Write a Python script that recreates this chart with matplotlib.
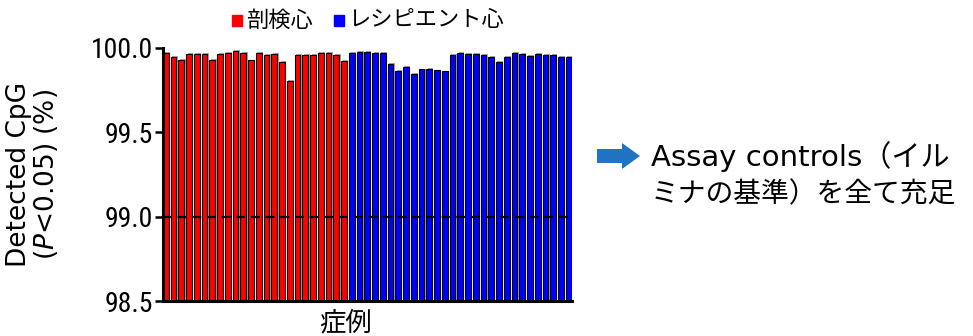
import matplotlib
matplotlib.use("Agg")
import matplotlib.pyplot as plt
import matplotlib.patheffects as pe
from matplotlib.patches import FancyArrow, Rectangle
import numpy as np

plt.rcParams['font.family'] = ['Noto Sans CJK JP', 'DejaVu Sans']
latin_cjk = ['DejaVu Sans', 'Noto Sans CJK JP']

# Detected CpG rate per case (%)
autopsy_values = [99.969, 99.942, 99.926, 99.962, 99.963, 99.962, 99.928, 99.960,
                  99.966, 99.978, 99.969, 99.924, 99.966, 99.957, 99.960, 99.913,
                  99.804, 99.957, 99.957, 99.954, 99.969, 99.966, 99.957, 99.922]
recipient_values = [99.966, 99.972, 99.972, 99.966, 99.966, 99.904, 99.863, 99.887,
                    99.845, 99.871, 99.875, 99.865, 99.859, 99.956, 99.968, 99.960,
                    99.960, 99.957, 99.942, 99.914, 99.944, 99.966, 99.960, 99.952,
                    99.960, 99.957, 99.954, 99.946, 99.942]
series_labels = ["剖検心", "レシピエント心"]
series_colors = ["#ff0000", "#0000ff"]
y_ticks = [98.5, 99.0, 99.5, 100.0]
threshold = 99.0
baseline = 98.5

fig = plt.figure(figsize=(9.73, 3.36), dpi=100)
ax = fig.add_axes([0.1675, 0.1027, 0.4205, 0.7559])

values = autopsy_values + recipient_values
colors = [series_colors[0]] * len(autopsy_values) + [series_colors[1]] * len(recipient_values)
x = np.arange(len(values))
heights = np.array(values) - baseline
bars = ax.bar(x, heights, bottom=baseline, width=0.74, color=colors,
              edgecolor='black', linewidth=0.8, zorder=2)
for b in bars:
    b.set_path_effects([pe.SimplePatchShadow(offset=(1.0, 0.6), shadow_rgbFace='0.65', alpha=1.0),
                        pe.Normal()])

ax.axhline(threshold, color='black', linewidth=1.6, dashes=(4.0, 2.6), zorder=3)

ax.set_xlim(-0.37, len(values) - 0.55)
ax.set_ylim(baseline, 100.0)
ax.set_yticks(y_ticks)
ax.set_yticklabels([f"{t:.1f}" for t in y_ticks],
                   fontfamily=['Roboto Condensed', 'Liberation Sans Narrow', 'Roboto', 'DejaVu Sans'],
                   fontsize=20)
ax.set_xticks([])
ax.tick_params(axis='y', length=6, width=1.8, direction='out', pad=1)
for s in ['top', 'right']:
    ax.spines[s].set_visible(False)
for s in ['left', 'bottom']:
    ax.spines[s].set_linewidth(2.2)

ax.set_ylabel("Detected CpG\n($\\mathit{P}$<0.05) (%)", fontfamily=latin_cjk,
              fontsize=19, linespacing=1.0, labelpad=22)
fig.text(346 / 973, 1 - 323 / 336, "症例", fontsize=19, va='center', ha='center')

# Legend across the top
fig.patches.append(Rectangle((232 / 973, 1 - 26 / 336), 10 / 973, 11 / 336,
                             transform=fig.transFigure, color=series_colors[0]))
fig.text(246 / 973, 1 - 20 / 336, series_labels[0], fontsize=16, va='center', ha='left')
fig.patches.append(Rectangle((334 / 973, 1 - 26 / 336), 10 / 973, 11 / 336,
                             transform=fig.transFigure, color=series_colors[1]))
fig.text(348 / 973, 1 - 20 / 336, series_labels[1], fontsize=16, va='center', ha='left')

# Note with arrow on the right
fig.patches.append(FancyArrow(597 / 973, 1 - 156 / 336, 25 / 973, 0,
                              width=14 / 336, head_width=26 / 336, head_length=18 / 973,
                              length_includes_head=False, transform=fig.transFigure,
                              color='#1f73c2', linewidth=0))
fig.text(651 / 973, 1 - 157 / 336, "Assay controls（イル", fontfamily=latin_cjk,
         fontsize=21, va='center', ha='left')
fig.text(651 / 973, 1 - 194 / 336, "ミナの基準）を全て充足", fontsize=20, va='center', ha='left')

fig.savefig("out.png", dpi=100)
